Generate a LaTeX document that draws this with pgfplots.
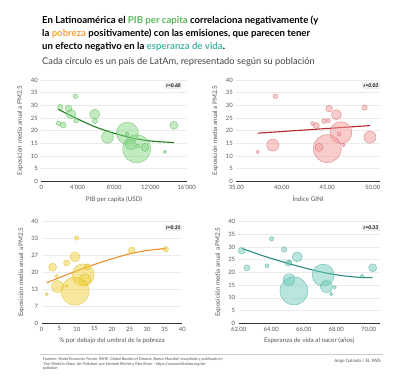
\documentclass[border=0pt]{standalone}
\usepackage{fontspec}
\setmainfont{Lato}
\usepackage{pgfplots}
\pgfplotsset{compat=1.18}
\definecolor{gdpFill}{HTML}{86D886}
\definecolor{gdpEdge}{HTML}{5DB85D}
\definecolor{gdpLine}{HTML}{1E7B1E}
\definecolor{giniFill}{HTML}{F59A9A}
\definecolor{giniEdge}{HTML}{D46A6A}
\definecolor{giniLine}{HTML}{B5272A}
\definecolor{povFill}{HTML}{F2D23C}
\definecolor{povEdge}{HTML}{DDBB2A}
\definecolor{povLine}{HTML}{EE8E2B}
\definecolor{leFill}{HTML}{72CDBE}
\definecolor{leEdge}{HTML}{4BA898}
\definecolor{leLine}{HTML}{2B8C7E}
\definecolor{tGreen}{HTML}{5CB85C}
\definecolor{tOrange}{HTML}{F2A540}
\definecolor{tTeal}{HTML}{4DB6A8}
\definecolor{axisgray}{HTML}{333333}
\definecolor{gridgray}{HTML}{EBEBEB}
\definecolor{labelgray}{HTML}{555555}
\definecolor{boxgray}{HTML}{EEEEEE}
\definecolor{subgray}{HTML}{444444}

\pgfplotsset{
  common/.style={
    scale only axis, anchor=south west,
    ymin=0, ymax=40,
    axis x line*=bottom, axis y line*=left,
    x axis line style={draw=axisgray, line width=0.9pt, -},
    y axis line style={draw=none},
    major tick length=0pt,
    ymajorgrids, grid style={draw=gridgray, line width=0.5pt},
    ytick={0,5,10,15,20,25,30,35,40},
    scaled x ticks=false,
    tick label style={font=\fontsize{5.9}{6}\selectfont, text=labelgray},
    label style={font=\fontsize{6.3}{7}\selectfont, text=labelgray},
    ylabel={Exposición media anual a PM2.5},
    ylabel style={at={(axis description cs:-0.145,0.5)}, anchor=center},
    /pgf/number format/assume math mode=true,
    clip=false,
  },
}

\begin{document}
\begin{tikzpicture}[x=1pt,y=1pt]
\fill[white] (0pt,0pt) rectangle (414pt,388pt);

% Title
\node[anchor=base west, inner sep=0pt, font=\fontsize{9.6}{11}\selectfont\bfseries] at (42pt,364pt)
  {En Latinoamérica el \textcolor{tGreen}{PIB per capita} correlaciona negativamente (y};
\node[anchor=base west, inner sep=0pt, font=\fontsize{9.6}{11}\selectfont\bfseries] at (42pt,351.3pt)
  {la \textcolor{tOrange}{pobreza} positivamente) con las emisiones, que parecen tener};
\node[anchor=base west, inner sep=0pt, font=\fontsize{9.6}{11}\selectfont\bfseries] at (42pt,338.7pt)
  {un efecto negativo en la \textcolor{tTeal}{esperanza de vida}.};
\node[anchor=base west, inner sep=0pt, font=\fontsize{9.3}{11}\selectfont, text=subgray] at (42pt,323.3pt)
  {Cada círculo es un país de LatAm, representado según su población};

% Panel 1: GDP
\begin{axis}[common, at={(41.3pt,206.7pt)}, width=145.4pt, height=101.3pt,
  xmin=0, xmax=16000, xtick={0,4000,8000,12000,16000},
  xticklabels={0,4'000,8'000,12'000,16'000},
  xlabel={PIB per capita (USD)}]
\addplot[scatter, only marks, mark=*,
  scatter/use mapped color={draw=gdpEdge, fill=gdpFill},
  visualization depends on={\thisrow{r}\as\bubr},
  scatter/@pre marker code/.append style={/tikz/mark size=\bubr},
  mark options={fill opacity=0.5, draw opacity=0.75, line width=0.4pt}] table {
x y r
3750 33.6 2.3
2100 29.3 2.8
3000 28.7 3.5
3280 26.5 4.8
3830 23.9 2.4
1900 22.9 2.2
2400 22.2 3.0
5880 26.5 5.0
5900 23.8 2.6
7280 17.4 6.0
9470 19.0 11.0
9450 18.6 2.0
10500 12.8 14.0
9850 14.5 5.5
10640 13.9 2.0
11400 13.4 4.0
13600 11.6 1.8
14580 22.1 4.0
};
\addplot[gdpLine, line width=1.1pt, smooth, no marks] coordinates {
(1820,28.5) (4000,24.6) (6000,21.4) (8000,19.0) (10000,17.1) (12000,15.9) (14580,15.3)};
\node[anchor=north east, fill=boxgray, inner sep=1.5pt, font=\fontsize{5}{6}\selectfont\bfseries\itshape] at (rel axis cs:0.97,0.98) {r=0.60};
\end{axis}

% Panel 2: GINI
\begin{axis}[common, at={(236.3pt,206.7pt)}, width=143.7pt, height=101.3pt,
  xmin=35, xmax=50.8, xtick={35,40,45,50},
  xticklabels={35.00,40.00,45.00,50.00},
  xlabel={Índice GINI}]
\addplot[scatter, only marks, mark=*,
  scatter/use mapped color={draw=giniEdge, fill=giniFill},
  visualization depends on={\thisrow{r}\as\bubr},
  scatter/@pre marker code/.append style={/tikz/mark size=\bubr},
  mark options={fill opacity=0.5, draw opacity=0.75, line width=0.4pt}] table {
x y r
39.3 33.6 2.3
37.35 11.6 1.8
39.0 14.3 6.0
45.2 28.7 3.3
46.0 26.3 5.0
49.1 29.1 2.7
43.4 22.8 2.0
43.8 22.0 3.0
44.65 23.8 2.4
45.1 23.9 2.2
46.5 19.2 11.0
46.3 18.6 2.0
45.0 12.9 14.0
44.1 13.4 4.0
46.8 14.4 1.8
49.7 17.4 6.0
};
\addplot[giniLine, line width=1.1pt, no marks] coordinates {(37.35,19.0) (49.7,22.0)};
\node[anchor=north east, fill=boxgray, inner sep=1.5pt, font=\fontsize{5}{6}\selectfont\bfseries\itshape] at (rel axis cs:1,0.98) {r=0.03};
\end{axis}

% Panel 3: poverty
\begin{axis}[common, at={(41.7pt,64.8pt)}, width=140.6pt, height=101.7pt,
  xmin=0, xmax=40, xtick={0,5,10,15,20,25,30,35,40},
  ytick={0,6.667,13.333,20,26.667,33.333,40},
  yticklabels={0,7,13,20,27,33,40},
  xlabel={\% por debajo del umbral de la pobreza}]
\addplot[scatter, only marks, mark=*,
  scatter/use mapped color={draw=povEdge, fill=povFill},
  visualization depends on={\thisrow{r}\as\bubr},
  scatter/@pre marker code/.append style={/tikz/mark size=\bubr},
  mark options={fill opacity=0.5, draw opacity=0.75, line width=0.4pt}] table {
x y r
9.96 33.5 2.2
25.6 28.7 3.3
35.3 29.1 2.7
9.47 26.1 5.0
7.1 23.7 3.0
3.1 22.0 4.0
4.2 18.6 1.8
11.8 19.0 11.0
12.3 17.0 6.0
4.5 14.4 6.0
7.1 14.7 1.8
9.5 12.6 14.0
1.4 11.4 1.8
13.0 22.2 3.0
};
\addplot[povLine, line width=1.1pt, smooth, no marks] coordinates {
(1.4,15.9) (5,17.9) (10,20.6) (15,23.1) (20,25.3) (25,27.3) (30,28.6) (35.3,29.4)};
\node[anchor=north east, fill=boxgray, inner sep=1.5pt, font=\fontsize{5}{6}\selectfont\bfseries\itshape] at (rel axis cs:1,0.97) {r=0.31};
\end{axis}

% Panel 4: life expectancy
\begin{axis}[common, at={(238.7pt,64.8pt)}, width=141.3pt, height=101.7pt,
  xmin=62, xmax=70.7, xtick={62,64,66,68,70},
  xticklabels={62.00,64.00,66.00,68.00,70.00},
  xlabel={Esperanza de vida al nacer (años)}]
\addplot[scatter, only marks, mark=*,
  scatter/use mapped color={draw=leEdge, fill=leFill},
  visualization depends on={\thisrow{r}\as\bubr},
  scatter/@pre marker code/.append style={/tikz/mark size=\bubr},
  mark options={fill opacity=0.5, draw opacity=0.75, line width=0.4pt}] table {
x y r
62.18 28.5 3.3
62.5 21.8 3.0
63.74 22.6 2.0
64.03 33.2 2.2
64.8 29.0 2.7
65.05 23.6 3.0
65.15 23.9 2.2
65.6 26.1 5.0
65.1 17.1 6.0
65.4 12.7 14.0
67.2 18.9 11.0
67.4 14.4 6.0
67.9 14.1 1.8
67.7 11.5 1.8
69.6 18.5 1.8
70.25 21.8 4.0
};
\addplot[leLine, line width=1.1pt, smooth, no marks] coordinates {
(62.2,29.4) (63.5,26.5) (65,23.6) (66.5,21.0) (67.5,19.6) (68.5,18.6) (69.5,18.0) (70.25,17.9)};
\node[anchor=north east, fill=boxgray, inner sep=1.5pt, font=\fontsize{5}{6}\selectfont\bfseries\itshape] at (rel axis cs:1,0.97) {r=0.33};
\end{axis}

% Footer
\draw[draw=gridgray!70!gray, line width=0.5pt] (40pt,34pt) -- (383pt,34pt);
\node[anchor=north west, inner sep=0pt, align=left, text=labelgray, font=\fontsize{4}{4.4}\selectfont\itshape] at (43pt,30.5pt)
  {Fuentes: World Economic Forum, IMHE, Global Burden of Disease, Banco Mundial; recopilado y publicado en\\
   'Our World in Data: Air Pollution', por Hannah Ritchie y Max Roser - https://ourworldindata.org/air-\\
   pollution};
\node[anchor=north east, inner sep=0pt, text=labelgray, font=\fontsize{4.5}{5}\selectfont] at (381pt,30pt)
  {Jorge Galindo / EL PAÍS};
\end{tikzpicture}
\end{document}
